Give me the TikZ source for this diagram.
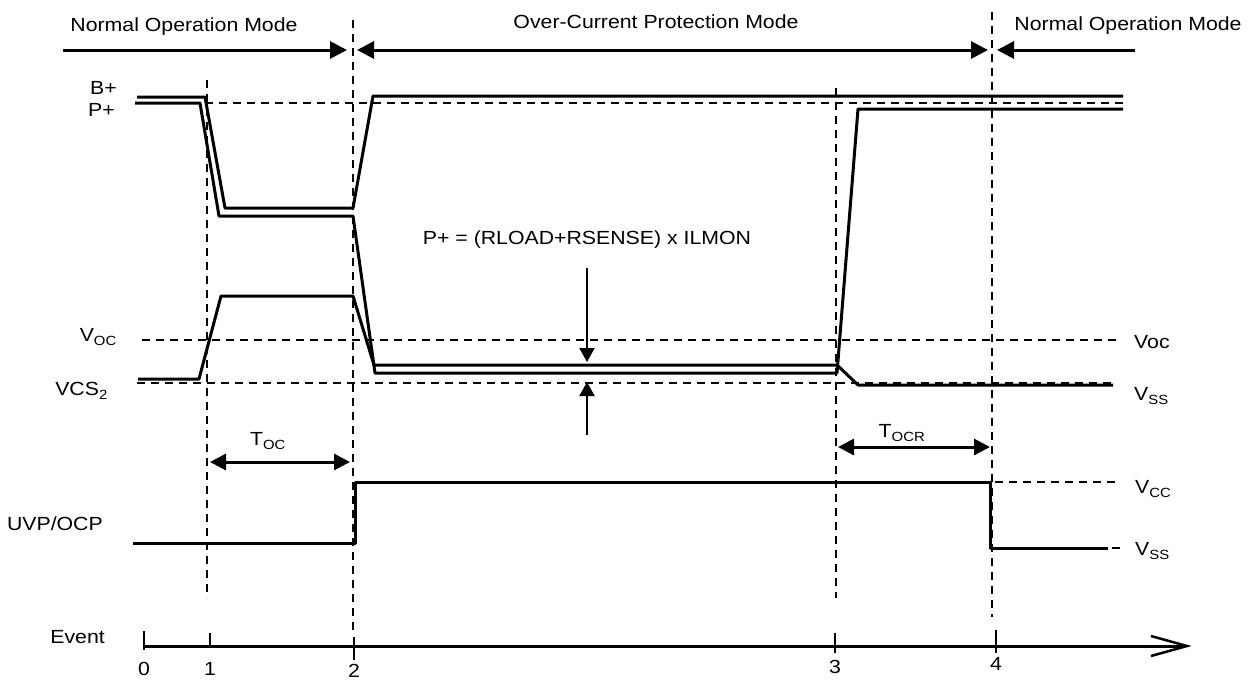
\documentclass[tikz,border=0pt]{standalone}
\usepackage{fontspec}
\setmainfont{Liberation Sans}[FakeStretch=1.12]
\usetikzlibrary{arrows.meta}
\tikzset{
  txt/.style={inner sep=0pt, font=\fontsize{19}{22}\selectfont},
  trace/.style={line width=3pt, line join=round},
  guide/.style={line width=2pt, dash pattern=on 8pt off 6pt},
  modearrow/.style={line width=3pt, -{Triangle[length=17pt,width=17pt]}},
  modearrow2/.style={line width=3pt, {Triangle[length=17pt,width=17pt]}-{Triangle[length=17pt,width=17pt]}},
  tarrow/.style={line width=3pt, {Triangle[length=16pt,width=16pt]}-{Triangle[length=16pt,width=16pt]}},
  carrow/.style={line width=2pt, -{Triangle[length=14pt,width=15pt]}},
  axisline/.style={line width=3pt},
  ticksty/.style={line width=2pt}
}
\begin{document}
\begin{tikzpicture}[x=1pt,y=-1pt]
\useasboundingbox (0,0) rectangle (1255,681);

% event guide lines
\draw[guide] (207,80) -- (207,598);
\draw[guide] (353,20) -- (353,632);
\draw[guide] (836,88) -- (836,598);
\draw[guide] (992,12) -- (992,617);

% level guide lines
\draw[guide] (135,103) -- (1123,103);
\draw[guide] (142,340) -- (1120,340);
\draw[guide] (137,383) -- (1113,383);
\draw[guide] (995,482) -- (1120,482);
\draw[guide] (1112,548) -- (1120,548);

% traces
\draw[trace] (137,97) -- (205,97) -- (225,208) -- (353,208) -- (373,96) -- (1123,96);
\draw[trace] (135,103) -- (200,103) -- (219,216) -- (353,216) -- (375,373) -- (837,373) -- (858,109) -- (1123,109);
\draw[trace] (138,379) -- (199,379) -- (221,296) -- (353,296) -- (374,365) -- (837,365) -- (858,385) -- (1113,385);
\draw[trace] (133,543) -- (355,543) -- (355,482) -- (990,482) -- (990,548) -- (1108,548);

% mode arrows
\coordinate (m0) at (63,50);
\coordinate (m1) at (347,50);
\coordinate (m2) at (357,50);
\coordinate (m3) at (988,50);
\coordinate (m4) at (997,50);
\coordinate (m5) at (1135,50);
\draw[modearrow] (m0) -- (m1);
\draw[modearrow2] (m2) -- (m3);
\draw[modearrow] (m5) -- (m4);
\node[txt, anchor=base] (tNOM1) at (184,31) {Normal Operation Mode};
\node[txt, anchor=base] (tOCP) at (656,28) {Over-Current Protection Mode};
\node[txt, anchor=base] (tNOM2) at (1128,30) {Normal Operation Mode};

% left labels
\node[txt, anchor=east] (lB) at (117,88) {B+};
\node[txt, anchor=east] (lP) at (115,110) {P+};
\node[txt, anchor=east] (lVoc) at (117,337) {V\textsubscript{OC}};
\node[txt, anchor=east] (lVcs) at (108,391) {VCS\textsubscript{2}};
\node[txt, anchor=east] (lUVP) at (103,524) {UVP/OCP};
\node[txt, anchor=east] (lEv) at (105,637) {Event};

% right labels
\node[txt, anchor=west] (rVoc) at (1134,342) {Voc};
\node[txt, anchor=west] (rVss1) at (1134,396) {V\textsubscript{SS}};
\node[txt, anchor=west] (rVcc) at (1135,489) {V\textsubscript{CC}};
\node[txt, anchor=west] (rVss2) at (1135,551) {V\textsubscript{SS}};

% timing arrows
\node[txt] (tToc) at (268,441) {T\textsubscript{OC}};
\node[txt] (tTocr) at (902,433) {T\textsubscript{OCR}};
\coordinate (toa) at (210,462);
\coordinate (tob) at (350,462);
\coordinate (tra) at (838,447);
\coordinate (trb) at (990,447);
\draw[tarrow] (toa) -- (tob);
\draw[tarrow] (tra) -- (trb);

% formula and arrows
\node[txt] (form) at (587,240) {P+ = (RLOAD+RSENSE) x ILMON};
\coordinate (dnS) at (587,268);
\coordinate (dnE) at (587,362);
\coordinate (upS) at (587,435);
\coordinate (upE) at (587,382);
\draw[carrow] (dnS) -- (dnE);
\draw[carrow] (upS) -- (upE);

% event axis
\coordinate (e0) at (144,646);
\coordinate (eEnd) at (1187,646);
\draw[axisline] (e0) -- ([xshift=-2pt]eEnd);
\draw[line width=2.5pt, line join=miter] (1151,636) -- (eEnd) -- (1151,656);
\draw[ticksty] (144,631) -- (144,650);
\draw[ticksty] (210,633) -- (210,647);
\draw[ticksty] (354,637) -- (354,660);
\draw[ticksty] (835,633) -- (835,653);
\draw[ticksty] (996,630) -- (996,653);
\node[txt] (n0) at (144,669) {0};
\node[txt] (n1) at (210,669) {1};
\node[txt] (n2) at (354,671) {2};
\node[txt] (n3) at (835,667) {3};
\node[txt] (n4) at (996,664) {4};
\end{tikzpicture}
\end{document}
